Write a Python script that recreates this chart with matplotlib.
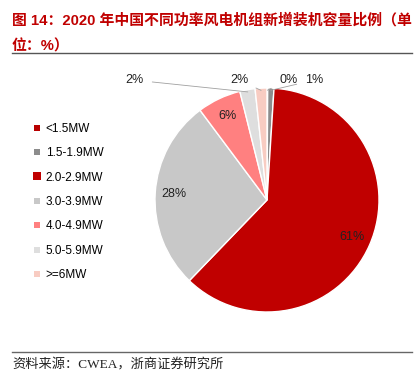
import matplotlib
matplotlib.use("Agg")
import matplotlib.pyplot as plt
from matplotlib.lines import Line2D
import numpy as np

plt.rcParams['font.family'] = ['Liberation Sans', 'Noto Sans CJK SC', 'DejaVu Sans']

categories = ['<1.5MW', '1.5-1.9MW', '2.0-2.9MW', '3.0-3.9MW', '4.0-4.9MW', '5.0-5.9MW', '>=6MW']
shares = [0.1, 0.9, 61.2, 27.6, 6.3, 2.2, 1.7]
colors = ['#B80000', '#8C8C8C', '#C00000', '#C8C8C8', '#FF8080', '#DEDEDE', '#F8CCC2']
title_lines = ['图 14：2020 年中国不同功率风电机组新增装机容量比例（单', '位：%）']
source = '资料来源：CWEA，浙商证券研究所'

W, H = 419, 385
fig = plt.figure(figsize=(W / 100, H / 100), dpi=100)

# pie centre (267, 200) px, radius 112 px
cx, cy, r = 267, 200, 112
ax = fig.add_axes([(cx - r) / W, 1 - (cy + r) / H, 2 * r / W, 2 * r / H])

wedges, _ = ax.pie(shares, colors=colors, startangle=90, counterclock=False,
                   radius=1, wedgeprops=dict(edgecolor='white', linewidth=1.0))
ax.set_xlim(-1, 1)
ax.set_ylim(-1, 1)
ax.axis('off')

# inside labels for the larger slices
for w, v in zip(wedges, shares):
    if v < 5:
        continue
    mid = np.deg2rad((w.theta1 + w.theta2) / 2)
    d = 0.83
    ax.text(d * np.cos(mid), d * np.sin(mid), '%d%%' % round(v),
            ha='center', va='center', fontsize=9, color='#222222')

# outside labels for the small slices (text x in data units, y fixed)
outside = {0: 0.19, 1: 0.42, 5: -1.18, 6: -0.25}
for i, tx in outside.items():
    w = wedges[i]
    mid = np.deg2rad((w.theta1 + w.theta2) / 2)
    ax.annotate('%d%%' % round(shares[i]),
                xy=(0.98 * np.cos(mid), 0.98 * np.sin(mid)),
                xytext=(tx, 1.07), ha='center', va='center',
                fontsize=9, color='#222222',
                arrowprops=dict(arrowstyle='-', color='#A0A0A0', lw=0.6,
                                shrinkA=4, shrinkB=0))

# legend
handles = []
for i, c in enumerate(colors):
    ms = 6 if i == 2 else 4
    handles.append(Line2D([], [], marker='s', linestyle='', color=c,
                          markersize=ms, markeredgewidth=0))
fig.legend(handles, categories, loc='upper left',
           bbox_to_anchor=(28 / W, 1 - 118 / H), frameon=False,
           fontsize=8.5, labelspacing=1.05, handlelength=0.8,
           handletextpad=0.3, borderaxespad=0)

# title
fig.text(12 / W, 1 - 20 / H, title_lines[0], fontsize=10.7, fontweight='bold',
         color='#C00000', ha='left', va='center')
fig.text(12 / W, 1 - 46 / H, title_lines[1], fontsize=10.7, fontweight='bold',
         color='#C00000', ha='left', va='center')
fig.add_artist(Line2D([12 / W, 412 / W], [1 - 53 / H, 1 - 53 / H],
                      color='#555555', lw=1.0))

# source
fig.add_artist(Line2D([12 / W, 412 / W], [1 - 352 / H, 1 - 352 / H],
                      color='#666666', lw=1.0))
fig.text(12 / W, 1 - 365 / H, source, fontsize=9.5,
         family=['Liberation Serif', 'Noto Sans CJK SC'],
         color='#222222', ha='left', va='center')

fig.savefig('out.png', dpi=100)
